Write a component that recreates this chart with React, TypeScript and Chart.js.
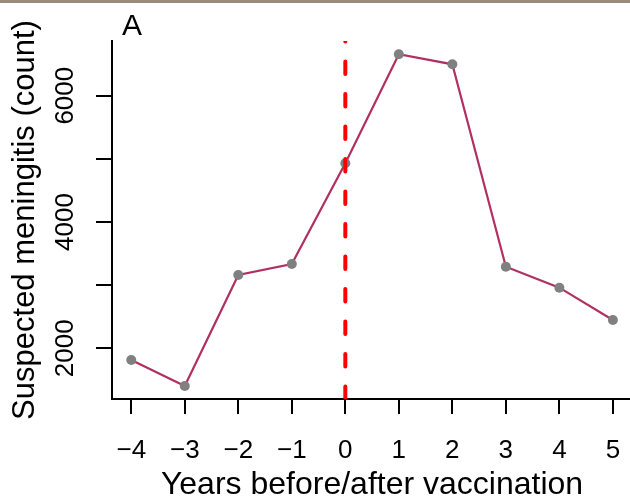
import React, { useEffect, useRef } from "react";
import { Chart, registerables } from "chart.js";

Chart.register(...registerables);

const YEARS = [-4, -3, -2, -1, 0, 1, 2, 3, 4, 5];
const CASES = [1815, 1403, 3161, 3335, 4929, 6656, 6497, 3292, 2960, 2448];
const X_TICKS = [-4, -3, -2, -1, 0, 1, 2, 3, 4, 5];
const Y_TICKS = [2000, 3000, 4000, 5000, 6000];
const Y_LABELS = [2000, 4000, 6000];
const VACC_YEAR = 0;
const X_TITLE = "Years before/after vaccination";
const Y_TITLE = "Suspected meningitis (count)";
const PANEL = "A";

const FONT = '"Liberation Sans", Arial, Helvetica, sans-serif';

export default function App() {
  const ref = useRef<HTMLCanvasElement | null>(null);

  useEffect(() => {
    if (!ref.current) return;
    const textPlugin = {
      id: "rtext",
      afterDatasetsDraw(chart: any) {
        const { ctx, chartArea, scales } = chart;
        const x = scales.x;
        ctx.save();
        ctx.beginPath();
        ctx.rect(chartArea.left, chartArea.top, chartArea.right - chartArea.left, chartArea.bottom - chartArea.top);
        ctx.clip();
        const px = x.getPixelForValue(VACC_YEAR);
        ctx.strokeStyle = "#FF0000";
        ctx.lineWidth = 4;
        ctx.lineCap = "round";
        ctx.setLineDash([12.5, 20]);
        ctx.beginPath();
        ctx.moveTo(px, chartArea.bottom);
        ctx.lineTo(px, chartArea.top);
        ctx.stroke();
        ctx.restore();
      },
      afterDraw(chart: any) {
        const { ctx, chartArea, scales } = chart;
        const x = scales.x;
        const y = scales.y;
        ctx.save();
        ctx.fillStyle = "rgb(155,140,125)";
        ctx.fillRect(0, 0, chart.width, 3);
        ctx.fillStyle = "#000";
        ctx.font = `26px ${FONT}`;
        ctx.textAlign = "center";
        ctx.textBaseline = "alphabetic";
        X_TICKS.forEach((v) => {
          const s = v < 0 ? "\u2212" + Math.abs(v) : String(v);
          ctx.fillText(s, x.getPixelForValue(v), 458);
        });
        ctx.font = `32px ${FONT}`;
        ctx.fillText(X_TITLE, (chartArea.left + 632) / 2, 494);
        ctx.font = `26px ${FONT}`;
        Y_LABELS.forEach((v) => {
          ctx.save();
          ctx.translate(73, y.getPixelForValue(v));
          ctx.rotate(-Math.PI / 2);
          ctx.textAlign = "center";
          ctx.fillText(String(v), 0, 0);
          ctx.restore();
        });
        ctx.font = `31px ${FONT}`;
        ctx.save();
        ctx.translate(34, (chartArea.top + chartArea.bottom) / 2);
        ctx.rotate(-Math.PI / 2);
        ctx.textAlign = "center";
        ctx.fillText(Y_TITLE, 0, 0);
        ctx.restore();
        ctx.font = `30px ${FONT}`;
        ctx.textAlign = "left";
        ctx.fillText(PANEL, 122, 35);
        ctx.restore();
      },
    };

    const chart = new Chart(ref.current, {
      type: "line",
      data: {
        datasets: [
          {
            data: YEARS.map((yr, i) => ({ x: yr, y: CASES[i] })),
            borderColor: "#B03060",
            borderWidth: 2.2,
            pointBackgroundColor: "#808080",
            pointBorderWidth: 0,
            pointRadius: 5,
            tension: 0,
          },
        ],
      },
      options: {
        responsive: false,
        animation: false,
        layout: { autoPadding: false, padding: { top: 41, left: 0, right: 0, bottom: 0 } },
        plugins: { legend: { display: false }, tooltip: { enabled: false } },
        scales: {
          x: {
            type: "linear",
            position: "bottom",
            min: -4.36,
            max: 5.32,
            afterBuildTicks: (s: any) => {
              s.ticks = X_TICKS.map((v) => ({ value: v }));
            },
            afterFit: (s: any) => {
              s.height = 100;
            },
            ticks: { display: false },
            grid: { drawOnChartArea: false, drawTicks: true, tickLength: 15, color: "#000", lineWidth: 2 },
            border: { display: true, color: "#000", width: 2 },
          },
          y: {
            type: "linear",
            min: 1197,
            max: 6866,
            afterBuildTicks: (s: any) => {
              s.ticks = Y_TICKS.map((v) => ({ value: v }));
            },
            afterFit: (s: any) => {
              s.width = 112;
            },
            ticks: { display: false },
            grid: { drawOnChartArea: false, drawTicks: true, tickLength: 16, color: "#000", lineWidth: 2 },
            border: { display: true, color: "#000", width: 2 },
          },
        },
      },
      plugins: [textPlugin],
    });
    return () => chart.destroy();
  }, []);

  return (
    <div style={{ position: "absolute", left: 0, top: 0, width: 630, height: 499, background: "#fff" }}>
      <canvas ref={ref} width={630} height={499} style={{ display: "block" }} />
    </div>
  );
}
